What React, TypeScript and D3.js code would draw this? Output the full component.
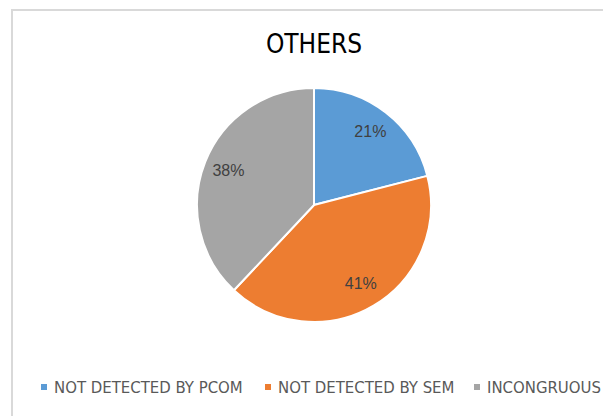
import { useMemo } from 'react';
import * as d3 from 'd3';

const WIDTH = 603;
const HEIGHT = 416;

const categories = ['NOT DETECTED BY PCOM', 'NOT DETECTED BY SEM', 'INCONGRUOUS'];
const values = [21, 41, 38];
const colors = ['#5b9bd5', '#ed7d31', '#a5a5a5'];
const legendX = [41, 265, 474];

const CENTER = { x: 314, y: 205 };
const RADIUS = 117;
const NARROW = '"DejaVu Sans Condensed", "Liberation Sans", sans-serif';
const FONT = '"Liberation Sans", Arial, sans-serif';

export default function App() {
  const arcs = useMemo(() => {
    const pie = d3.pie<number>().sort(null).value((d) => d);
    return pie(values);
  }, []);

  const arcBuilder = d3.arc<d3.PieArcDatum<number>>().innerRadius(0).outerRadius(RADIUS);
  const labelArc = d3.arc<d3.PieArcDatum<number>>().innerRadius(92).outerRadius(92);
  const total = d3.sum(values);

  return (
    <svg
      width={WIDTH}
      height={HEIGHT}
      style={{ position: 'absolute', left: 0, top: 0, background: '#fff' }}
      fontFamily={FONT}
    >
      {/* chart border, cropped on the right and bottom */}
      <path d={`M12,${HEIGHT} V10 H${WIDTH}`} fill="none" stroke="#d9d9d9" strokeWidth={2} />

      <text x={CENTER.x} y={53} textAnchor="middle" fontSize={26} fontFamily={NARROW} fill="#000">
        OTHERS
      </text>

      <g transform={`translate(${CENTER.x},${CENTER.y})`}>
        {arcs.map((a, i) => (
          <path key={i} d={arcBuilder(a) || ''} fill={colors[i]} stroke="#fff" strokeWidth={2} />
        ))}
        {arcs.map((a, i) => {
          const [lx, ly] = labelArc.centroid(a);
          return (
            <text
              key={i}
              x={lx}
              y={ly - 1}
              textAnchor="middle"
              dominantBaseline="central"
              fontSize={16}
              fill="#404040"
            >
              {Math.round((a.data / total) * 100)}%
            </text>
          );
        })}
      </g>

      <g transform="translate(0,393)">
        {categories.map((c, i) => (
          <g key={c} transform={`translate(${legendX[i]},0)`}>
            <rect x={0} y={-9} width={6} height={6} fill={colors[i]} />
            <text x={13} y={0} fontSize={16.6} fontFamily={NARROW} fill="#595959">
              {c}
            </text>
          </g>
        ))}
      </g>
    </svg>
  );
}
